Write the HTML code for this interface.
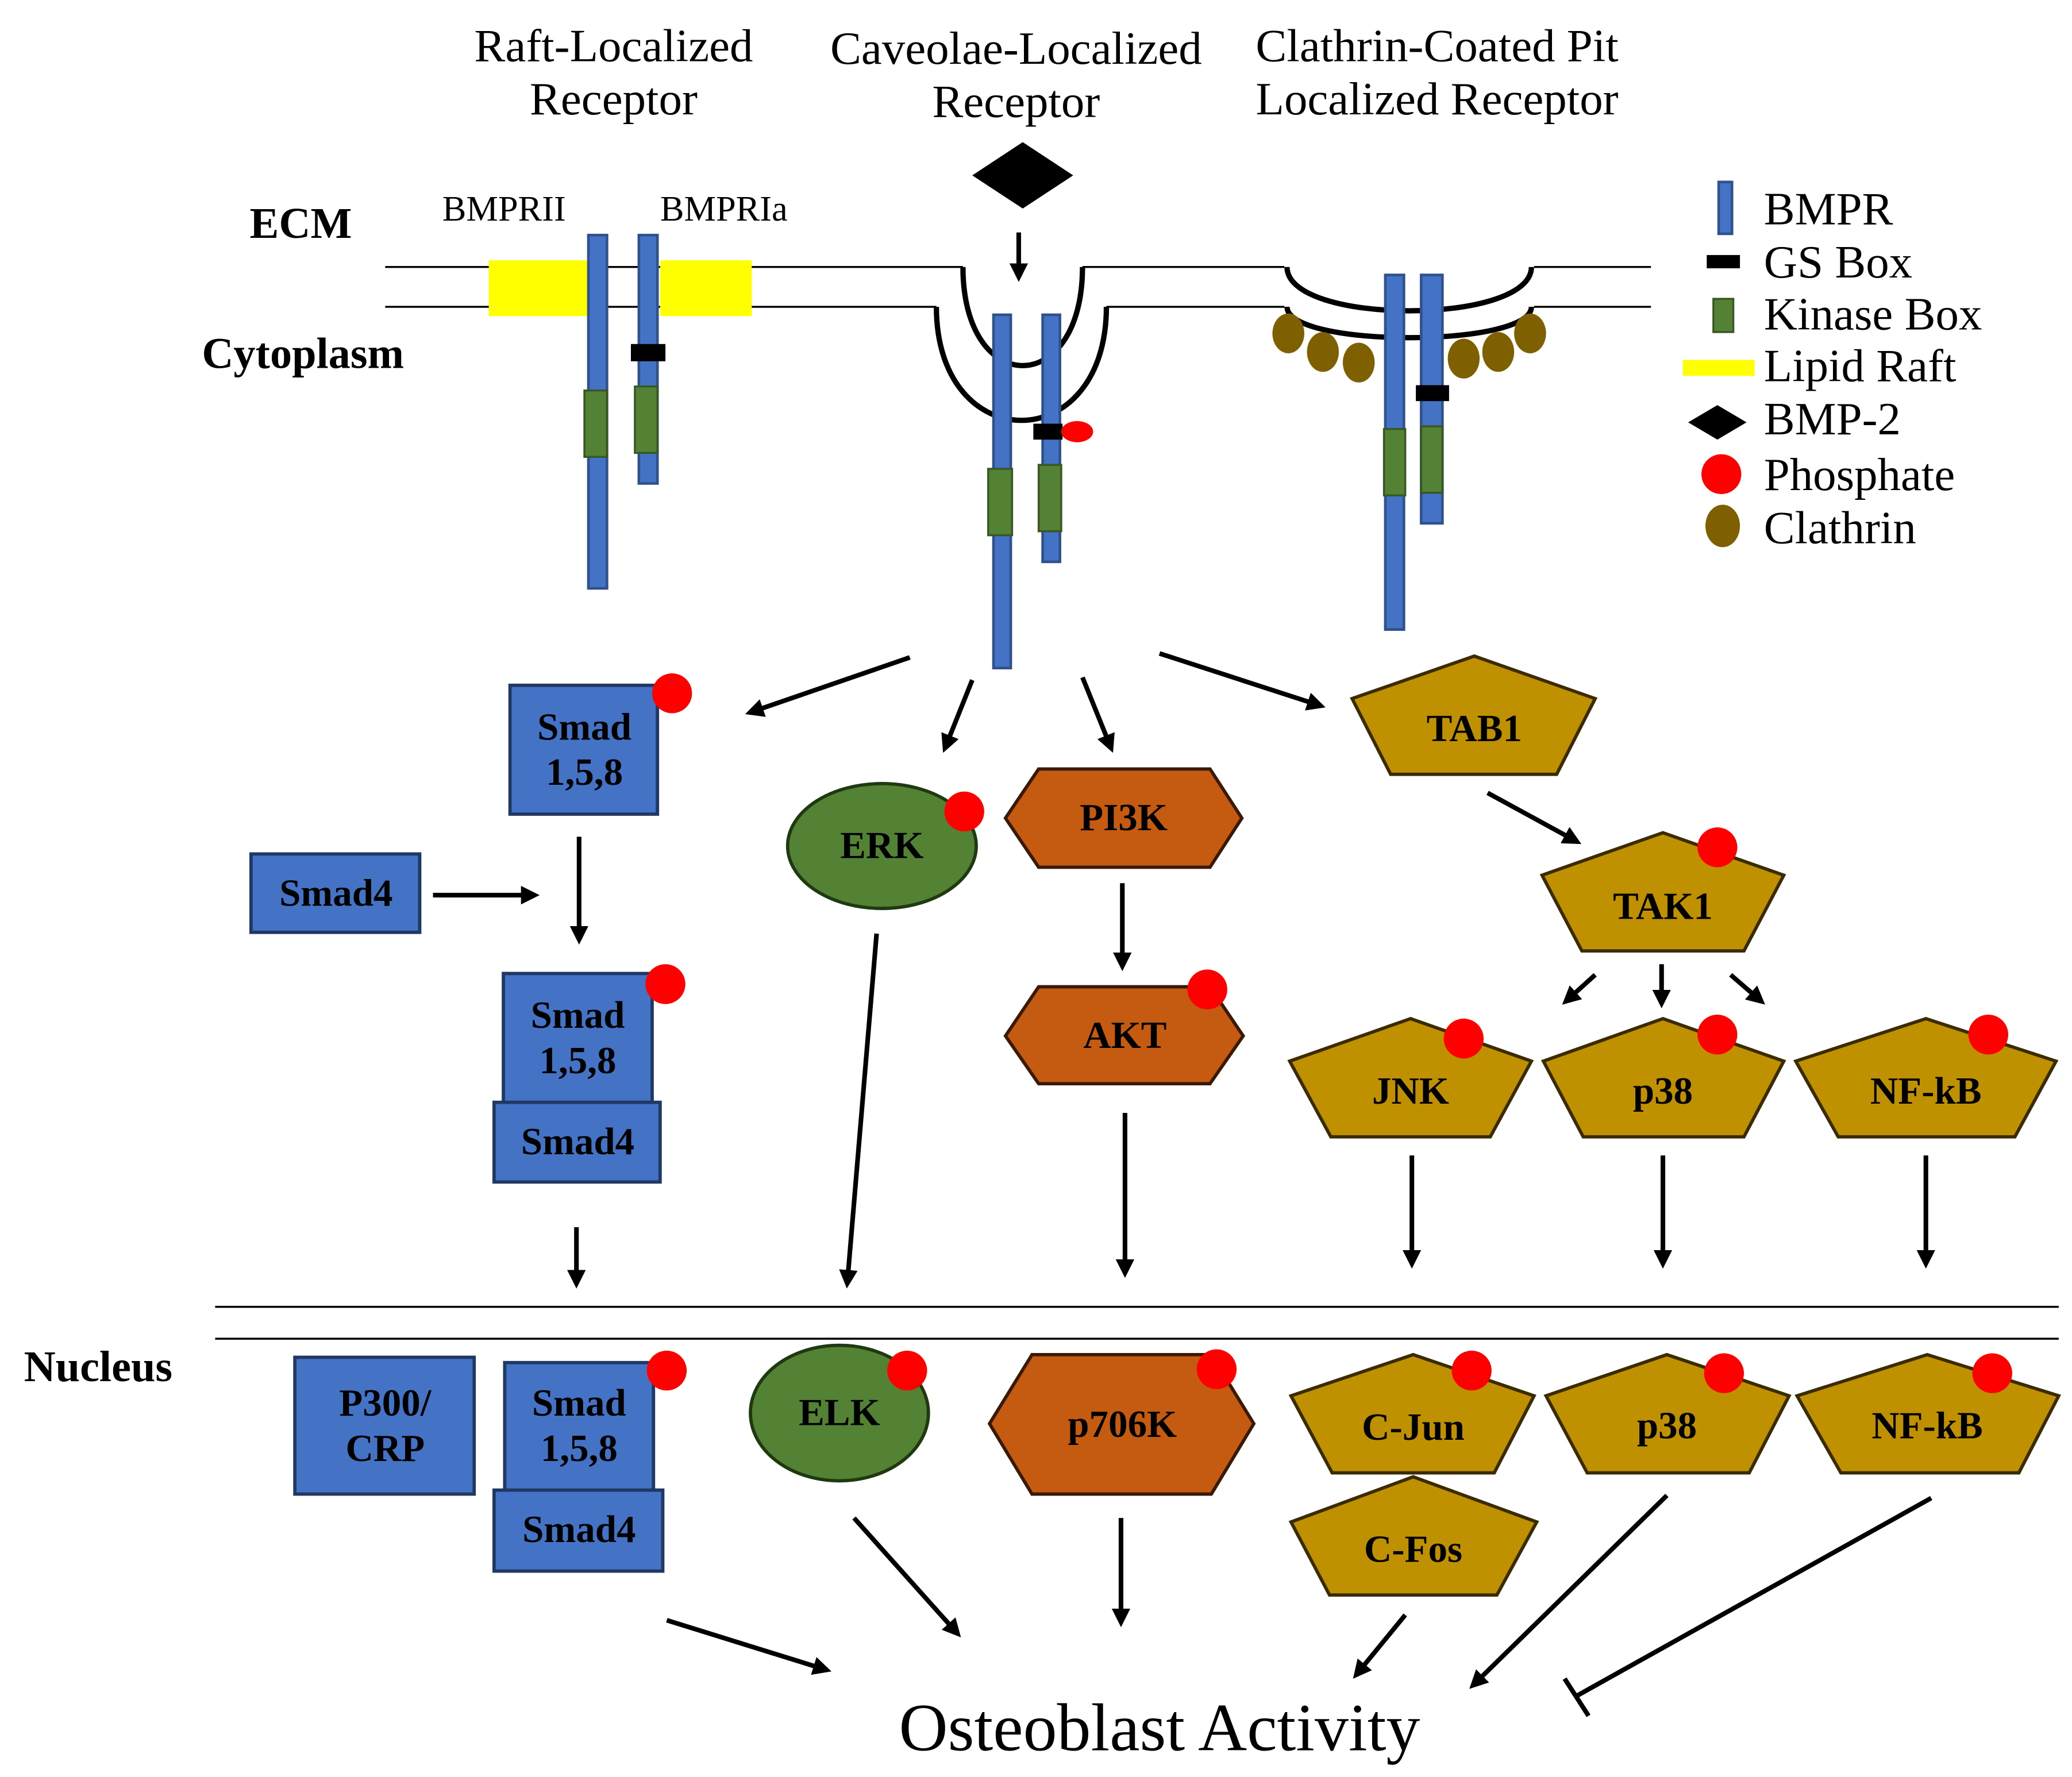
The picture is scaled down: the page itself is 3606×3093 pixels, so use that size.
<!DOCTYPE html>
<html><head><meta charset="utf-8"><style>html,body{margin:0;padding:0;background:#fff}svg{display:block}</style></head><body>
<svg width="3606" height="3093" viewBox="0 0 1560 1338" xmlns="http://www.w3.org/2000/svg" font-family="'Liberation Serif', serif">
<defs>
<marker id="ah" markerWidth="4" markerHeight="4" refX="2.5" refY="2" orient="auto" markerUnits="strokeWidth"><path d="M0,0 L4,2 L0,4 Z" fill="#000"/></marker>
</defs>
<rect width="1560" height="1338" fill="#fff"/>
<g font-size="35" text-anchor="middle">
<text x="462" y="46">Raft-Localized</text><text x="462" y="86">Receptor</text>
<text x="765" y="48">Caveolae-Localized</text><text x="765" y="88">Receptor</text>
<text x="1082" y="46">Clathrin-Coated Pit</text><text x="1082" y="86">Localized Receptor</text>
</g>
<g font-weight="bold" font-size="33"><text x="188" y="179">ECM</text><text x="152" y="277">Cytoplasm</text><text x="18" y="1040">Nucleus</text></g>
<text x="333" y="166" font-size="27">BMPRII</text><text x="497" y="166" font-size="27">BMPRIa</text>
<polygon points="732,132 770,107 808,132 770,157" fill="#000"/>
<line x1="767" y1="175" x2="767" y2="207" stroke="#000" stroke-width="3.5" marker-end="url(#ah)"/>
<g stroke="#000" stroke-width="1.5" fill="none">
<line x1="290" y1="201" x2="725" y2="201"/><line x1="290" y1="231" x2="705" y2="231"/>
<line x1="815" y1="201" x2="967" y2="201"/><line x1="833" y1="231" x2="967" y2="231"/>
<line x1="1155" y1="201" x2="1243" y2="201"/><line x1="1155" y1="231" x2="1243" y2="231"/>
</g>
<g stroke="#000" stroke-width="4" fill="none">
<path d="M725,201 C725,300 815,300 815,201"/>
<path d="M705,231 C705,345 833,345 833,231"/>
<path d="M969,201 C969,245 1153,245 1153,201"/>
<path d="M969,231 C969,262 1153,262 1153,231"/>
</g>
<rect x="368" y="196" width="75" height="42" fill="#FFFF00"/><rect x="497" y="196" width="69" height="42" fill="#FFFF00"/>
<g fill="#4472C4" stroke="#2F528F" stroke-width="2">
<rect x="443" y="177" width="14" height="266"/><rect x="481" y="177" width="14" height="187"/>
<rect x="748" y="237" width="13" height="266"/><rect x="785" y="237" width="13" height="186"/>
<rect x="1043" y="207" width="14" height="267"/><rect x="1070" y="207" width="16" height="187"/>
<rect x="1294" y="137" width="10" height="39"/>
</g>
<g fill="#000"><rect x="475" y="259" width="26" height="13"/><rect x="778" y="319" width="22" height="12"/><rect x="1066" y="290" width="25" height="12"/><rect x="1285" y="192" width="25" height="10"/></g>
<ellipse cx="811" cy="325" rx="12" ry="8" fill="#FF0000"/>
<g fill="#548235" stroke="#385723" stroke-width="1.5">
<rect x="440" y="294" width="17" height="50"/><rect x="478" y="291" width="17" height="50"/>
<rect x="744" y="353" width="18" height="50"/><rect x="782" y="350" width="17" height="50"/>
<rect x="1042" y="323" width="16" height="50"/><rect x="1070" y="321" width="16" height="50"/>
<rect x="1290" y="225" width="15" height="25"/>
</g>
<g fill="#7F6000">
<ellipse cx="970" cy="251" rx="12" ry="15"/><ellipse cx="996" cy="265" rx="12" ry="15"/><ellipse cx="1023" cy="273" rx="12" ry="15"/>
<ellipse cx="1102" cy="270" rx="12" ry="15"/><ellipse cx="1128" cy="265" rx="12" ry="15"/><ellipse cx="1152" cy="251" rx="12" ry="15"/>
<ellipse cx="1297" cy="396" rx="13" ry="16"/>
</g>
<rect x="1267" y="271" width="54" height="12" fill="#FFFF00"/>
<polygon points="1271,318 1293,305 1315,318 1293,331" fill="#000"/>
<circle cx="1296" cy="357" r="15" fill="#FF0000"/>
<g font-size="35"><text x="1328" y="169">BMPR</text><text x="1328" y="209">GS Box</text><text x="1328" y="248">Kinase Box</text><text x="1328" y="287">Lipid Raft</text><text x="1328" y="327">BMP-2</text><text x="1328" y="369">Phosphate</text><text x="1328" y="409">Clathrin</text></g>
<g stroke="#000" stroke-width="3.5" fill="none" marker-end="url(#ah)">
<line x1="685" y1="495" x2="566" y2="536"/><line x1="732" y1="512" x2="712" y2="562"/><line x1="815" y1="510" x2="836" y2="562"/><line x1="873" y1="492" x2="993" y2="531"/>
<line x1="326" y1="674" x2="401" y2="674"/><line x1="436" y1="630" x2="436" y2="706"/><line x1="434" y1="924" x2="434" y2="965"/>
<line x1="660" y1="703" x2="638" y2="965"/><line x1="845" y1="665" x2="845" y2="726"/><line x1="847" y1="838" x2="847" y2="957"/>
<line x1="1120" y1="597" x2="1186" y2="633"/>
<line x1="1201" y1="734" x2="1180" y2="753"/><line x1="1251" y1="726" x2="1251" y2="754"/><line x1="1303" y1="734" x2="1325" y2="753"/>
<line x1="1063" y1="870" x2="1063" y2="950"/><line x1="1252" y1="870" x2="1252" y2="950"/><line x1="1450" y1="870" x2="1450" y2="950"/>
<line x1="502" y1="1220" x2="621" y2="1257"/><line x1="643" y1="1143" x2="720" y2="1229"/><line x1="844" y1="1143" x2="844" y2="1220"/><line x1="1058" y1="1216" x2="1022" y2="1260"/><line x1="1255" y1="1126" x2="1110" y2="1268"/>
</g>
<g stroke="#000" stroke-width="3.5"><line x1="1454" y1="1128" x2="1187" y2="1277"/><line x1="1178" y1="1264" x2="1196" y2="1292"/></g>
<g stroke="#000" stroke-width="1.5"><line x1="162" y1="984" x2="1550" y2="984"/><line x1="162" y1="1008" x2="1550" y2="1008"/></g>
<g fill="#4472C4" stroke="#1F3864" stroke-width="2.5">
<rect x="384" y="516" width="111" height="97"/><rect x="189" y="643" width="127" height="59"/>
<rect x="379" y="733" width="112" height="99"/><rect x="372" y="830" width="125" height="60"/>
<rect x="222" y="1022" width="135" height="103"/><rect x="380" y="1026" width="112" height="98"/><rect x="372" y="1122" width="127" height="61"/>
</g>
<g fill="#548235" stroke="#1f3a10" stroke-width="2.5"><ellipse cx="664" cy="637" rx="71" ry="47"/><ellipse cx="632" cy="1064" rx="67" ry="51"/></g>
<g fill="#C55A11" stroke="#3a1a05" stroke-width="2.5">
<polygon points="757,616 782,579 911,579 935,616 911,653 782,653"/>
<polygon points="757,780 782,743 911,743 936,780 911,816 782,816"/>
<polygon points="745,1072 777,1020 912,1020 944,1072 912,1125 777,1125"/>
</g>
<g fill="#BF9000" stroke="#3a2c00" stroke-width="2.5">
<polygon points="1110,494 1201,526 1172,583 1047,583 1018,526"/>
<polygon points="1252,627 1343,659 1313,716 1191,716 1161,659"/>
<polygon points="1062,767 1153,799 1122,856 1002,856 971,799"/>
<polygon points="1252,767 1343,799 1313,856 1192,856 1162,799"/>
<polygon points="1450,767 1548,799 1517,856 1384,856 1352,799"/>
<polygon points="1064,1020 1155,1051 1125,1109 1003,1109 972,1051"/>
<polygon points="1064,1112 1157,1146 1127,1201 1001,1201 972,1146"/>
<polygon points="1255,1020 1347,1051 1317,1109 1195,1109 1164,1051"/>
<polygon points="1451,1020 1550,1051 1520,1109 1386,1109 1353,1051"/>
</g>
<g fill="#FF0000">
<circle cx="506" cy="522" r="15"/><circle cx="501" cy="741" r="15"/><circle cx="726" cy="611" r="15"/><circle cx="909" cy="745" r="15"/>
<circle cx="1293" cy="638" r="15"/><circle cx="1102" cy="782" r="15"/><circle cx="1293" cy="779" r="15"/><circle cx="1497" cy="779" r="15"/>
<circle cx="502" cy="1032" r="15"/><circle cx="683" cy="1032" r="15"/><circle cx="916" cy="1031" r="15"/><circle cx="1108" cy="1032" r="15"/><circle cx="1298" cy="1034" r="15"/><circle cx="1500" cy="1034" r="15"/>
</g>
<g font-weight="bold" font-size="29" text-anchor="middle" fill="#000">
<text x="440" y="557">Smad</text><text x="440" y="591">1,5,8</text><text x="253" y="682">Smad4</text>
<text x="435" y="774">Smad</text><text x="435" y="808">1,5,8</text><text x="435" y="869">Smad4</text>
<text x="664" y="646">ERK</text><text x="846" y="625">PI3K</text><text x="847" y="789">AKT</text>
<text x="1110" y="558">TAB1</text><text x="1252" y="692">TAK1</text><text x="1062" y="831">JNK</text><text x="1252" y="831">p38</text><text x="1450" y="831">NF-kB</text>
<text x="290" y="1066">P300/</text><text x="290" y="1100">CRP</text>
<text x="436" y="1066">Smad</text><text x="436" y="1100">1,5,8</text><text x="436" y="1161">Smad4</text>
<text x="632" y="1073">ELK</text><text x="845" y="1082">p706K</text>
<text x="1064" y="1084">C-Jun</text><text x="1064" y="1176">C-Fos</text><text x="1255" y="1083">p38</text><text x="1451" y="1083">NF-kB</text>
</g>
<text x="873" y="1318" font-size="51" text-anchor="middle">Osteoblast Activity</text>
</svg>
</body></html>
